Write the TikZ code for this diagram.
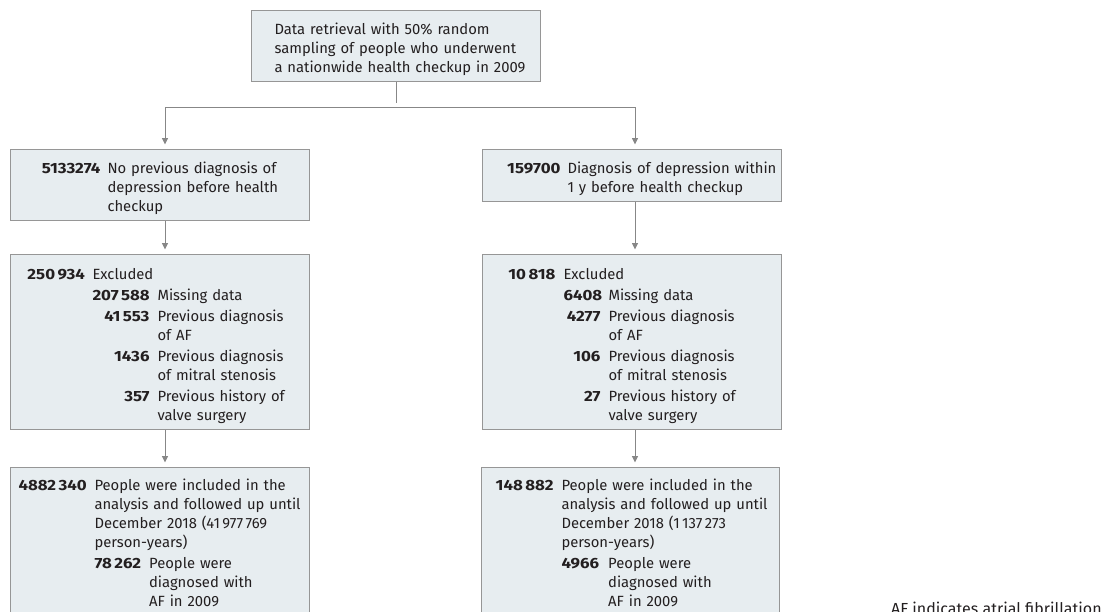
\documentclass[tikz,border=0pt]{standalone}
\usepackage{fontspec}
\setmainfont{Fira Sans}[BoldFeatures={FakeStretch=1.14}]
\usepackage{array}
\usetikzlibrary{arrows.meta, positioning, calc}

\definecolor{boxfill}{RGB}{231,237,240}
\definecolor{boxline}{RGB}{150,150,150}
\definecolor{linkgray}{RGB}{135,135,135}
\definecolor{inkdark}{RGB}{35,31,32}

\newcolumntype{N}[1]{>{\raggedleft\arraybackslash\bfseries}p{#1}}

\tikzset{
  flowbox/.style={draw=boxline, fill=boxfill, line width=1pt, inner sep=0pt,
    anchor=north west, text width=#1, align=left, text=inkdark,
    font=\fontsize{14.8}{19}\selectfont},
  link/.style={draw=linkgray, line width=0.9pt, shorten >=4.5pt},
}

\begin{document}
\begin{tikzpicture}[x=1pt, y=-1pt, >={Triangle[length=6.5pt, width=6pt]}]
\useasboundingbox (0,0) rectangle (1108,611);
\clip (0,0) rectangle (1108,611);

% source population
\node[flowbox=289pt, minimum height=71pt] (top) at (251,10) {\noindent\hspace*{23pt}\raisebox{-4pt}[\height][\depth]{\begin{tabular}{@{}l@{}}
Data retrieval with 50\% random\\
sampling of people who underwent\\
a nationwide health checkup in 2009
\end{tabular}}};

% depression status before checkup
\node[flowbox=299pt, minimum height=71pt] (nodep) at (10,149) {\noindent\hspace*{22pt}\raisebox{-4pt}[\height][\depth]{\begin{tabular}{@{}N{68pt}@{\hspace{7pt}}l@{}}
5133274 & No previous diagnosis of\\
 & depression before health\\
 & checkup
\end{tabular}}};
\node[flowbox=299pt, minimum height=52pt] (dep) at (482,149) {\noindent\hspace*{18pt}\raisebox{-4pt}[\height][\depth]{\begin{tabular}{@{}N{60pt}@{\hspace{7pt}}l@{}}
159700 & Diagnosis of depression within\\
 & 1 y before health checkup
\end{tabular}}};

% exclusions
\node[flowbox=299pt, minimum height=175pt] (exl) at (10,254) {\noindent\hspace*{17pt}\raisebox{-4pt}[\height][\depth]{\begin{tabular}{@{}N{56pt}@{\hspace{9pt}}N{57pt}@{\hspace{8pt}}l@{}}
250\,934 & \multicolumn{2}{@{}l@{}}{Excluded}\\[2pt]
 & 207\,588 & Missing data\\[2pt]
 & 41\,553 & Previous diagnosis\\
 & & of AF\\[2pt]
 & 1436 & Previous diagnosis\\
 & & of mitral stenosis\\[2pt]
 & 357 & Previous history of\\
 & & valve surgery
\end{tabular}}};
\node[flowbox=299pt, minimum height=175pt] (exr) at (482,254) {\noindent\hspace*{20pt}\raisebox{-4pt}[\height][\depth]{\begin{tabular}{@{}N{53pt}@{\hspace{8pt}}N{37pt}@{\hspace{8pt}}l@{}}
10\,818 & \multicolumn{2}{@{}l@{}}{Excluded}\\[2pt]
 & 6408 & Missing data\\[2pt]
 & 4277 & Previous diagnosis\\
 & & of AF\\[2pt]
 & 106 & Previous diagnosis\\
 & & of mitral stenosis\\[2pt]
 & 27 & Previous history of\\
 & & valve surgery
\end{tabular}}};

% analysed cohorts
\node[flowbox=299pt, minimum height=149pt] (incl) at (10,467) {\noindent\hspace*{8pt}\raisebox{-3pt}[\height][\depth]{\begin{tabular}{@{}N{68pt}@{\hspace{8pt}}>{\bfseries}l@{\hspace{8pt}}l@{}}
4882\,340 & \multicolumn{2}{@{}l@{}}{People were included in the}\\
 & \multicolumn{2}{@{}l@{}}{analysis and followed up until}\\
 & \multicolumn{2}{@{}l@{}}{December 2018 (41\,977\,769}\\
 & \multicolumn{2}{@{}l@{}}{person-years)}\\[2pt]
 & 78\,262 & People were\\
 & & diagnosed with\\
 & & AF in 2009
\end{tabular}}};
\node[flowbox=298pt, minimum height=149pt] (incr) at (481,467) {\noindent\hspace*{14pt}\raisebox{-3pt}[\height][\depth]{\begin{tabular}{@{}N{58pt}@{\hspace{8pt}}>{\bfseries}l@{\hspace{9pt}}l@{}}
148\,882 & \multicolumn{2}{@{}l@{}}{People were included in the}\\
 & \multicolumn{2}{@{}l@{}}{analysis and followed up until}\\
 & \multicolumn{2}{@{}l@{}}{December 2018 (1\,137\,273}\\
 & \multicolumn{2}{@{}l@{}}{person-years)}\\[2pt]
 & 4966 & People were\\
 & & diagnosed with\\
 & & AF in 2009
\end{tabular}}};

% footnote
\node[anchor=north west, inner sep=0pt, text=inkdark, font=\fontsize{16}{19}\selectfont] (note) at (891,602) {AF indicates atrial fibrillation};

% connectors
\coordinate (lcol) at (165,0);
\coordinate (rcol) at (635,0);
\draw[link] (top.south) -- ++(0,25.5) coordinate (split);
\draw[link,->] (split) -| (nodep.north -| lcol);
\draw[link,->] (split) -| (dep.north -| rcol);
\draw[link,->] (nodep.south -| lcol) -- (exl.north -| lcol);
\draw[link,->] (dep.south -| rcol) -- (exr.north -| rcol);
\draw[link,->] (exl.south -| lcol) -- (incl.north -| lcol);
\draw[link,->] (exr.south -| rcol) -- (incr.north -| rcol);
\end{tikzpicture}
\end{document}
